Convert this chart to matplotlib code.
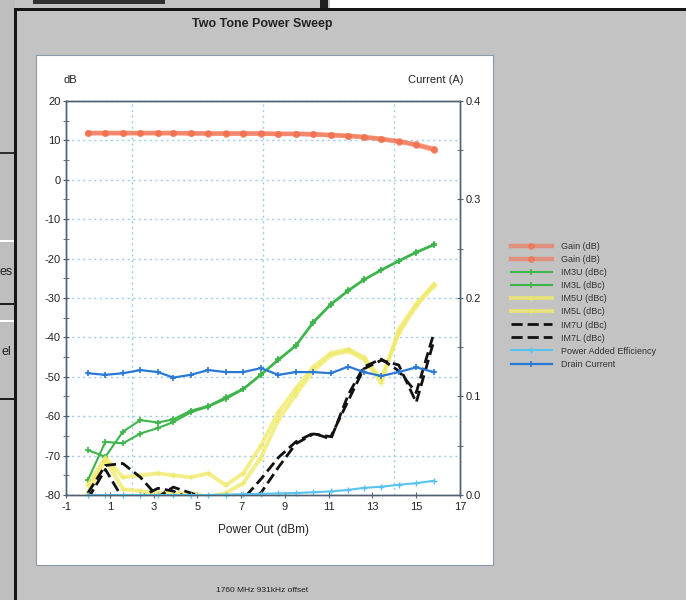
#!/usr/bin/env python3
"""Two Tone Power Sweep - recriacao do grafico (screenshot da janela)."""
import matplotlib

matplotlib.use("Agg")
import matplotlib.pyplot as plt
from matplotlib.patches import Rectangle
from matplotlib.ticker import MultipleLocator

W, H = 686, 600

# potencia de saida (dBm), comum a todas as series
pout = [0.0, 0.8, 1.6, 2.4, 3.2, 3.9, 4.7, 5.5, 6.3, 7.1, 7.9,
        8.7, 9.5, 10.3, 11.1, 11.9, 12.6, 13.4, 14.2, 15.0, 15.8]

gain_a = [11.9, 11.9, 11.9, 11.9, 11.9, 11.9, 11.8, 11.8, 11.8, 11.8, 11.8,
          11.7, 11.7, 11.6, 11.4, 11.2, 10.9, 10.4, 9.8, 9.0, 7.9]
gain_b = [11.8, 11.8, 11.8, 11.8, 11.8, 11.8, 11.8, 11.7, 11.7, 11.7, 11.7,
          11.6, 11.6, 11.5, 11.3, 11.1, 10.8, 10.3, 9.7, 8.8, 7.6]

im3u = [-68.6, -70.3, -63.9, -61.0, -61.6, -60.8, -58.6, -57.4, -55.2, -53.0, -49.4,
        -45.6, -42.0, -36.0, -31.5, -28.0, -25.3, -22.8, -20.5, -18.3, -16.4]
im3l = [-76.2, -66.5, -66.9, -64.4, -63.0, -61.5, -59.0, -57.6, -55.6, -53.2, -49.6,
        -45.8, -42.2, -36.3, -31.7, -28.2, -25.5, -23.0, -20.7, -18.5, -16.6]

im5u = [-77.5, -70.5, -75.5, -75.0, -74.5, -75.0, -75.5, -74.5, -77.5, -74.5, -67.5,
        -59.0, -53.0, -47.5, -44.0, -43.0, -45.0, -50.5, -39.0, -32.0, -27.0]
im5l = [-79.5, -71.0, -78.5, -79.0, -79.5, -79.5, -79.5, -80.5, -79.5, -77.0, -70.5,
        -61.0, -54.5, -48.5, -44.5, -43.5, -45.5, -51.5, -38.0, -31.5, -26.5]

im7u = [-79.5, -72.5, -72.0, -75.5, -80.5, -78.0, -79.5, -81.0, -81.0, -81.0, -76.0,
        -70.5, -66.5, -64.3, -65.8, -54.5, -47.5, -45.5, -48.5, -54.0, -39.0]
im7l = [-81.0, -73.5, -81.0, -80.5, -78.3, -79.0, -81.0, -81.0, -81.0, -82.0, -79.5,
        -73.0, -67.0, -64.5, -65.2, -56.0, -48.0, -45.8, -47.0, -56.5, -41.0]

# eixo da direita (Current (A))
pae = [0.0, 0.0, 0.0, 0.0, 0.0, 0.0, 0.0, 0.0, 0.0004, 0.0008, 0.0012,
       0.0016, 0.002, 0.0028, 0.0036, 0.0052, 0.0072, 0.0084, 0.0104, 0.012, 0.0144]
drain = [0.1236, 0.122, 0.1236, 0.1268, 0.1248, 0.1192, 0.122, 0.1268, 0.1248, 0.1248, 0.1288,
         0.122, 0.1248, 0.1248, 0.1236, 0.1304, 0.1248, 0.1208, 0.1248, 0.1296, 0.1248]

x_ticks = list(range(-1, 18, 2))
x_grid = [2, 5, 8, 11, 14]


def box(fig, x0, y0, x1, y1, **kw):
    """Retangulo em pixels (origem no canto superior esquerdo)."""
    r = Rectangle((x0 / W, 1 - y1 / H), (x1 - x0) / W, (y1 - y0) / H,
                  transform=fig.transFigure, **kw)
    fig.add_artist(r)
    return r


def text(fig, x, y, s, **kw):
    fig.text(x / W, 1 - y / H, s, **kw)


def janela(fig):
    # janela de fundo a esquerda e no topo
    box(fig, 0, 0, 15, H, fc="#bebebe", ec="none", zorder=-5)
    box(fig, 330, 0, W, 9, fc="white", ec="none", zorder=-5)
    box(fig, 320, 0, 328, 9, fc="#202020", ec="none", zorder=-4)
    box(fig, 33, 0, 165, 4, fc="#303030", ec="none", zorder=-4)
    for y, c in [(152, "#303030"), (240, "white"), (303, "#202020"),
                 (320, "white"), (398, "#202020")]:
        box(fig, 0, y, 14, y + 2, fc=c, ec="none", zorder=-4)
    text(fig, 0, 272, "es", fontsize=9, va="center", color="#222222")
    text(fig, 1, 352, "el", fontsize=9, va="center", color="#222222")
    # borda do dialogo
    box(fig, 14, 8, 17, H, fc="#151515", ec="none", zorder=-3)
    box(fig, 14, 8, W, 11, fc="#151515", ec="none", zorder=-3)
    # painel branco do grafico
    box(fig, 36, 55, 493, 565, fc="white", ec="#8b9aa6", lw=0.8, zorder=-2)


def main() -> None:
    plt.rcParams["font.family"] = ["Liberation Sans", "DejaVu Sans"]
    plt.rcParams["axes.unicode_minus"] = False
    fig = plt.figure(figsize=(W / 100, H / 100), dpi=100, facecolor="#c3c3c3")
    janela(fig)

    ax = fig.add_axes([66 / W, 1 - 495 / H, 394 / W, 394 / H])
    ax.set_facecolor("white")
    ax2 = ax.twinx()

    gain_kw = dict(color="#f2714f", lw=3.2, marker="o", ms=4, alpha=0.6)
    ax.plot(pout, gain_a, label="Gain (dB)", **gain_kw)
    ax.plot(pout, gain_b, label="Gain (dB)", **gain_kw)

    im3_kw = dict(color="#3db54a", lw=1.5, marker="+", ms=5, mew=1.2)
    ax.plot(pout, im3u, label="IM3U (dBc)", **im3_kw)
    ax.plot(pout, im3l, label="IM3L (dBc)", **im3_kw)

    im5_kw = dict(color="#f0ea6a", lw=2.8, marker="+", ms=4, alpha=0.8)
    ax.plot(pout, im5u, label="IM5U (dBc)", **im5_kw)
    ax.plot(pout, im5l, label="IM5L (dBc)", **im5_kw)

    im7_kw = dict(color="#111111", lw=2.0, dashes=(4, 1.8))
    ax.plot(pout, im7u, label="IM7U (dBc)", **im7_kw)
    ax.plot(pout, im7l, label="IM7L (dBc)", **im7_kw)

    ax2.plot(pout, pae, color="#57c3ee", lw=1.5, marker="+", ms=5, mew=1,
             label="Power Added Efficiency", clip_on=False)
    ax2.plot(pout, drain, color="#2a78d6", lw=1.6, marker="+", ms=5, mew=1.2,
             label="Drain Current")

    ax.set_xlim(-1, 17)
    ax.set_ylim(-80, 20)
    ax2.set_ylim(0, 0.4)

    ax.set_xticks(x_ticks)
    ax.set_xticks(x_grid, minor=True)
    ax.yaxis.set_major_locator(MultipleLocator(10))
    ax.yaxis.set_minor_locator(MultipleLocator(5))
    ax2.yaxis.set_major_locator(MultipleLocator(0.1))
    ax2.yaxis.set_minor_locator(MultipleLocator(0.05))
    ax2.set_yticklabels([f"{v:.1f}" for v in ax2.get_yticks()])

    grid_kw = dict(color="#9ccde6", ls=(0, (1.5, 2.5)), lw=1.0)
    ax.grid(True, which="minor", axis="x", **grid_kw)
    ax.grid(True, which="major", axis="y", **grid_kw)

    spine_c = "#4f6070"
    for a in (ax, ax2):
        for s in a.spines.values():
            s.set_color(spine_c)
            s.set_linewidth(1.0)
    ax.tick_params(axis="x", which="major", direction="inout", length=4,
                   color=spine_c, labelsize=8, pad=3, labelcolor="#222222")
    ax.tick_params(axis="x", which="minor", length=0)
    ax.tick_params(axis="y", which="both", direction="inout", length=5,
                   color=spine_c, labelsize=8, pad=1.5, labelcolor="#222222")
    ax2.tick_params(axis="y", which="both", direction="inout", length=5,
                    color=spine_c, labelsize=8, pad=1.5, labelcolor="#222222")

    ax.set_xlabel("Power Out (dBm)", fontsize=8.5, labelpad=9, color="#222222")
    text(fig, 70, 80, "dB", fontsize=8, ha="center", va="center", color="#222222")
    text(fig, 463, 80, "Current (A)", fontsize=8, ha="right", va="center", color="#222222")
    text(fig, 262, 24, "Two Tone Power Sweep", fontsize=9, weight="bold",
         ha="center", va="center", color="#222222")
    text(fig, 262, 590, "1760 MHz 931kHz offset", fontsize=6, ha="center",
         va="center", color="#222222")

    h1, l1 = ax.get_legend_handles_labels()
    h2, l2 = ax2.get_legend_handles_labels()
    fig.legend(h1 + h2, l1 + l2, loc="upper left", bbox_to_anchor=(503 / W, 1 - 234 / H),
               frameon=False, fontsize=6.5, handlelength=4.5, labelspacing=0.45,
               handletextpad=1.0, labelcolor="#333333")

    fig.savefig("out.png", dpi=100, facecolor=fig.get_facecolor())


if __name__ == "__main__":
    main()
